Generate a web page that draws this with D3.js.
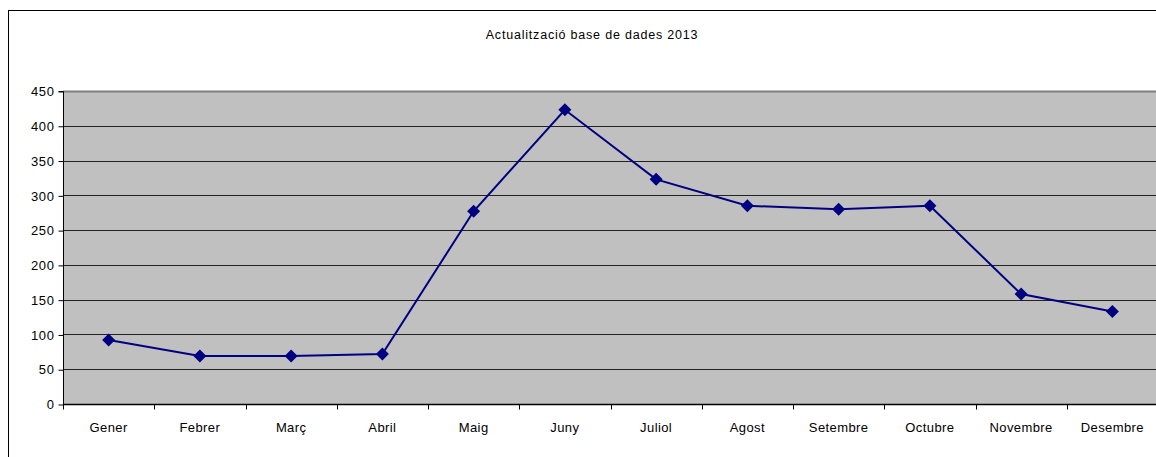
<!DOCTYPE html>
<html><head><meta charset="utf-8">
<script src="https://cdn.jsdelivr.net/npm/d3@7"></script>
<style>
html,body{margin:0;padding:0;background:#fff;overflow:hidden}
text{font-family:"Liberation Sans",Arial,sans-serif;fill:#000}
</style></head>
<body>
<svg id="c" width="1156" height="457"></svg>
<script>
const title = "Actualització base de dades 2013";
const months = ["Gener","Febrer","Març","Abril","Maig","Juny","Juliol","Agost","Setembre","Octubre","Novembre","Desembre"];
const values = [92, 69, 69, 72, 277, 423, 323, 285, 280, 285, 158, 133];
const yTicks = [0,50,100,150,200,250,300,350,400,450];

const svg = d3.select("#c");
const pL = 63, pR = 1158, pT = 91, pB = 404;

// outer chart border
svg.append("rect").attr("x",8.5).attr("y",10.5).attr("width",1160).attr("height",460)
  .attr("fill","#fff").attr("stroke","#000").attr("stroke-width",1);

svg.append("text").attr("x",592).attr("y",39).attr("text-anchor","middle")
  .style("font-size","12.5px").style("letter-spacing","0.8px").text(title);

const x = d3.scaleBand().domain(months).range([pL,pR]).padding(0);
const y = d3.scaleLinear().domain([0,450]).range([pB,pT]);

svg.append("rect").attr("x",pL).attr("y",pT).attr("width",pR-pL).attr("height",pB-pT)
  .attr("fill","#C0C0C0");

// gridlines
svg.append("g").selectAll("line").data(yTicks.filter(d=>d>0)).join("line")
  .attr("x1",pL).attr("x2",pR)
  .attr("y1",d=>Math.round(y(d))+0.5).attr("y2",d=>Math.round(y(d))+0.5)
  .attr("stroke",d=>d===450?"#808080":"#222").attr("stroke-width",d=>d===450?2:1);

// y axis
const ya = svg.append("g").attr("transform",`translate(${pL+0.5},0.5)`)
  .call(d3.axisLeft(y).tickValues(yTicks).tickSize(5).tickPadding(4).tickFormat(d3.format("d")));
ya.select(".domain").attr("stroke","#000").attr("d",`M-5,${y(450)}H0V${y(0)}`);
ya.selectAll(".tick line").attr("stroke","#000");
ya.selectAll("text").style("font-size","13px").style("letter-spacing","0.6px")
  .style("font-family","'Liberation Sans',Arial,sans-serif").attr("fill","#000");

// x axis
const xa = svg.append("g").attr("transform",`translate(0,${pB+0.5})`);
xa.append("line").attr("x1",pL).attr("x2",pR).attr("y1",0).attr("y2",0).attr("stroke","#000").attr("stroke-width",1.5);
const bounds = months.map(m=>x(m)).concat([pR]);
xa.selectAll("line.t").data(bounds).join("line").attr("class","t")
  .attr("x1",d=>Math.round(d)+0.5).attr("x2",d=>Math.round(d)+0.5).attr("y1",0).attr("y2",5).attr("stroke","#000");
xa.selectAll("text").data(months).join("text")
  .attr("x",d=>x(d)+x.bandwidth()/2).attr("y",27).attr("text-anchor","middle")
  .style("font-size","13px").style("letter-spacing","0.4px").text(d=>d);

// line
const line = d3.line().x((d,i)=>x(months[i])+x.bandwidth()/2).y(d=>y(d));
svg.append("path").datum(values).attr("d",line).attr("fill","none")
  .attr("stroke","#000080").attr("stroke-width",2);

// markers
svg.append("g").selectAll("path").data(values).join("path")
  .attr("transform",(d,i)=>`translate(${x(months[i])+x.bandwidth()/2},${y(d)}) rotate(45)`)
  .attr("d",d3.symbol().type(d3.symbolSquare).size(85)).attr("fill","#000080");
</script>
</body></html>
